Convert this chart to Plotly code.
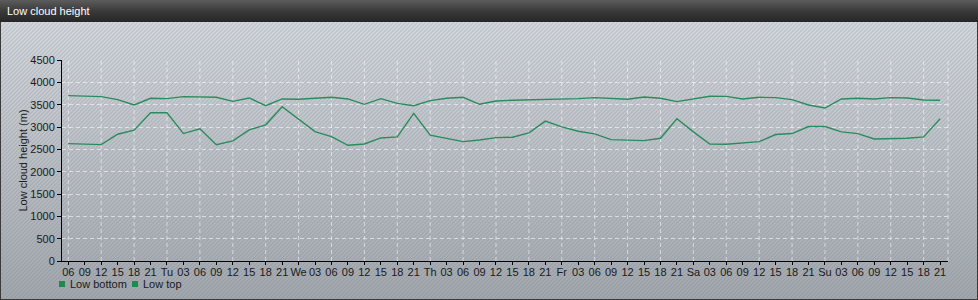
import base64
import plotly.graph_objects as go

# ---- data ----
tick_labels = ["06", "09", "12", "15", "18", "21"]
for day in ["Tu", "We", "Th", "Fr", "Sa", "Su"]:
    tick_labels += [day, "03", "06", "09", "12", "15", "18", "21"]

low_bottom = [2628, 2613, 2605, 2838, 2928, 3320, 3320, 2853, 2959, 2605, 2688, 2936, 3049, 3455,
              3177, 2898, 2786, 2590, 2620, 2755, 2778, 3304, 2816, 2740, 2673, 2710, 2763,
              2771, 2868, 3132, 3004, 2906, 2846, 2718, 2703, 2695, 2748, 3184, 2891, 2620,
              2613, 2643, 2673, 2831, 2853, 3011, 3011, 2891, 2853, 2733, 2740, 2748, 2778, 3184]
low_top = [3703, 3688, 3680, 3613, 3493, 3643, 3635, 3680, 3673, 3665, 3575, 3650, 3477, 3628,
           3620, 3650, 3665, 3628, 3508, 3635, 3530, 3477, 3590, 3643, 3665, 3508, 3583,
           3598, 3605, 3628, 3628, 3635, 3658, 3635, 3620, 3673, 3643, 3568, 3628, 3688,
           3685, 3628, 3665, 3658, 3613, 3493, 3425, 3628, 3643, 3628, 3658, 3650, 3605, 3598]
series_names = ["Low bottom", "Low top"]

x_idx = list(range(len(tick_labels)))

# ---- geometry ----
W, H = 978, 300
ML, MR, MT, MB = 62, 30, 60, 39
PW, PH = W - ML - MR, H - MT - MB


def px2x(px):
    return (px - ML) / PW


def py2y(py):
    return (H - MB - py) / PH


GREEN = "#2a8c5c"
LEG_GREEN = "#1f8a4e"
FONT = "Liberation Sans, Arial, sans-serif"

svg = f"""<svg xmlns='http://www.w3.org/2000/svg' width='{W}' height='{H}'>
<defs>
<linearGradient id='t' x1='0' y1='0' x2='0' y2='1'><stop offset='0' stop-color='#5c5c5c'/><stop offset='0.5' stop-color='#3a3a3a'/><stop offset='1' stop-color='#262626'/></linearGradient>
<linearGradient id='b' x1='0' y1='0' x2='0' y2='1'><stop offset='0' stop-color='#d4d8dc'/><stop offset='1' stop-color='#a3a8ad'/></linearGradient>
<pattern id='p' width='4' height='4' patternUnits='userSpaceOnUse'><path d='M-1,1 l2,-2 M0,4 l4,-4 M3,5 l2,-2' stroke='rgba(95,110,130,0.22)' stroke-width='1.1'/></pattern>
</defs>
<rect width='{W}' height='{H}' fill='#3a3a3a'/>
<rect x='0' y='0' width='{W}' height='22' fill='url(#t)'/>
<rect x='1' y='22' width='{W-2}' height='{H-23}' fill='url(#b)'/>
<rect x='1' y='22' width='{W-2}' height='{H-23}' fill='url(#p)'/>
</svg>"""
bg_uri = "data:image/svg+xml;base64," + base64.b64encode(svg.encode()).decode()

fig = go.Figure()
for name, vals in zip(series_names, [low_bottom, low_top]):
    fig.add_trace(go.Scatter(x=x_idx, y=vals, mode="lines", name=name,
                             showlegend=False, line=dict(color=GREEN, width=1.4),
                             hoverinfo="x+y"))

shapes = []
grid_col = "rgba(255,255,255,0.55)"
for i in x_idx[::2]:
    shapes.append(dict(type="line", xref="x", yref="paper", x0=i, x1=i, y0=0, y1=1,
                       line=dict(color=grid_col, width=1, dash="4px,3px"), layer="below"))
shapes.append(dict(type="line", xref="paper", yref="paper", x0=1, x1=1, y0=0, y1=1,
                   line=dict(color=grid_col, width=1, dash="4px,3px"), layer="below"))

# legend keys (square swatches) + labels
legend_x = [59, 132]
annotations = [dict(text="Low cloud height", xref="paper", yref="paper",
                    x=px2x(5), y=py2y(11.5), xanchor="left", yanchor="middle",
                    showarrow=False, font=dict(family=FONT, size=11, color="#ffffff"))]
for name, lx in zip(series_names, legend_x):
    shapes.append(dict(type="rect", xref="paper", yref="paper",
                       x0=px2x(lx), x1=px2x(lx + 6), y0=py2y(287), y1=py2y(281),
                       fillcolor=LEG_GREEN, line=dict(width=0), layer="above"))
    annotations.append(dict(text=name, xref="paper", yref="paper",
                            x=px2x(lx + 9), y=py2y(283.5), xanchor="left", yanchor="middle",
                            showarrow=False, font=dict(family=FONT, size=11, color="#1a1a1a")))

fig.update_layout(
    width=W, height=H,
    margin=dict(l=ML, r=MR, t=MT, b=MB, autoexpand=False),
    paper_bgcolor="#bcc0c5",
    plot_bgcolor="rgba(0,0,0,0)",
    font=dict(family=FONT, size=11, color="#1a1a1a"),
    images=[dict(source=bg_uri, xref="paper", yref="paper", x=px2x(0), y=py2y(0),
                 sizex=W / PW, sizey=H / PH, xanchor="left", yanchor="top",
                 sizing="stretch", layer="below")],
    shapes=shapes,
    annotations=annotations,
    xaxis=dict(range=[-0.383, 53.48], tickmode="array", tickvals=x_idx, ticktext=tick_labels,
               tickangle=0, showgrid=False, zeroline=False, showline=True, linecolor="#000000",
               linewidth=1, ticks="outside", ticklen=3, tickcolor="#000000",
               ticklabelstandoff=-2,
               tickfont=dict(size=11, color="#1a1a1a")),
    yaxis=dict(range=[0, 4500], tickmode="linear", tick0=0, dtick=500, showgrid=True,
               gridcolor=grid_col, griddash="4px,3px", gridwidth=1, zeroline=False,
               showline=True, linecolor="#000000", linewidth=1, ticks="outside", ticklen=4,
               tickcolor="#000000", tickfont=dict(size=11, color="#1a1a1a"),
               title=dict(text="Low cloud height (m)", font=dict(size=11, color="#1a1a1a"),
                          standoff=0)),
    showlegend=False,
)

fig.write_html("out.html", config={"displayModeBar": False},
               post_script="document.body.style.margin='0';document.body.style.overflow='hidden';")
